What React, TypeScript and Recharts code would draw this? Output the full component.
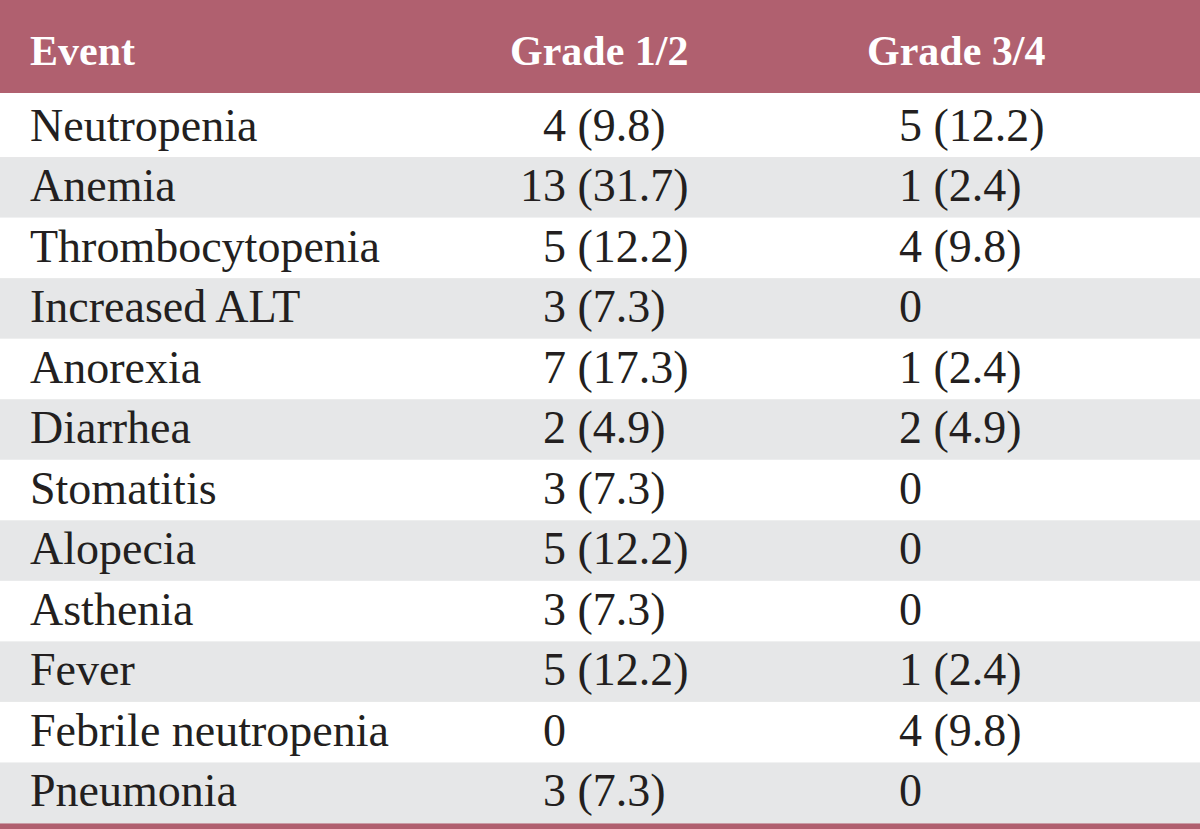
import React from 'react';
import { ComposedChart, Bar, XAxis, YAxis, Cell, Customized } from 'recharts';

const headers = ['Event', 'Grade 1/2', 'Grade 3/4'];
const events = [
  'Neutropenia',
  'Anemia',
  'Thrombocytopenia',
  'Increased ALT',
  'Anorexia',
  'Diarrhea',
  'Stomatitis',
  'Alopecia',
  'Asthenia',
  'Fever',
  'Febrile neutropenia',
  'Pneumonia',
];
const grade12Counts = [4, 13, 5, 3, 7, 2, 3, 5, 3, 5, 0, 3];
const grade12Pcts: (number | null)[] = [9.8, 31.7, 12.2, 7.3, 17.3, 4.9, 7.3, 12.2, 7.3, 12.2, null, 7.3];
const grade34Counts = [5, 1, 4, 0, 1, 2, 0, 0, 0, 1, 4, 0];
const grade34Pcts: (number | null)[] = [12.2, 2.4, 9.8, null, 2.4, 4.9, null, null, null, 2.4, 9.8, null];

const data = events.map((e, i) => ({
  event: e,
  band: 1,
  g12c: grade12Counts[i],
  g12p: grade12Pcts[i],
  g34c: grade34Counts[i],
  g34p: grade34Pcts[i],
}));

const W = 1200;
const H = 829;
const MAROON = '#b0606f';
const STRIPE = '#e6e7e8';
const INK = '#231f20';
const FONT = '"Liberation Serif", "Times New Roman", serif';
const BODY_SIZE = 46;
const HEAD_SIZE = 42;
const COL_X = [30, 510, 867];
const COUNT_END = [566, 922];
const SPACE = BODY_SIZE * 0.25;

const ValueCell = ({ xEnd, y, count, pct }: { xEnd: number; y: number; count: number; pct: number | null }) => (
  <g>
    <text x={xEnd} y={y} textAnchor="end" fontFamily={FONT} fontSize={BODY_SIZE} fill={INK}>
      {count}
    </text>
    {pct != null && (
      <text x={xEnd + SPACE} y={y} textAnchor="start" fontFamily={FONT} fontSize={BODY_SIZE} fill={INK}>
        {`(${pct.toFixed(1)})`}
      </text>
    )}
  </g>
);

const RowShape = (props: any) => {
  const { x, y, width, height, fill, payload } = props;
  const baseline = y + height / 2 + 13.5;
  return (
    <g>
      <rect x={x} y={y} width={width} height={height} fill={fill} />
      <text x={COL_X[0]} y={baseline} fontFamily={FONT} fontSize={BODY_SIZE} fill={INK}>
        {payload.event}
      </text>
      <ValueCell xEnd={COUNT_END[0]} y={baseline} count={payload.g12c} pct={payload.g12p} />
      <ValueCell xEnd={COUNT_END[1]} y={baseline} count={payload.g34c} pct={payload.g34p} />
    </g>
  );
};

const Frame = () => (
  <g>
    <rect x={0} y={0} width={W} height={93} fill={MAROON} />
    <rect x={0} y={823} width={W} height={H - 823} fill={MAROON} />
    {headers.map((h, i) => (
      <text
        key={h}
        x={COL_X[i]}
        y={65}
        fontFamily={FONT}
        fontWeight="bold"
        fontSize={HEAD_SIZE}
        fill="#ffffff"
      >
        {h}
      </text>
    ))}
  </g>
);

export default function App() {
  return (
    <div style={{ position: 'absolute', left: 0, top: 0, width: W, height: H, background: '#ffffff' }}>
      <ComposedChart
        width={W}
        height={H}
        data={data}
        layout="vertical"
        margin={{ top: 96.5, right: 0, bottom: H - 823, left: 0 }}
        barCategoryGap={0}
      >
        <XAxis type="number" domain={[0, 1]} hide />
        <YAxis type="category" dataKey="event" hide />
        <Bar dataKey="band" isAnimationActive={false} shape={<RowShape />}>
          {data.map((_, i) => (
            <Cell key={i} fill={i % 2 === 0 ? '#ffffff' : STRIPE} />
          ))}
        </Bar>
        <Customized component={Frame} />
      </ComposedChart>
    </div>
  );
}
